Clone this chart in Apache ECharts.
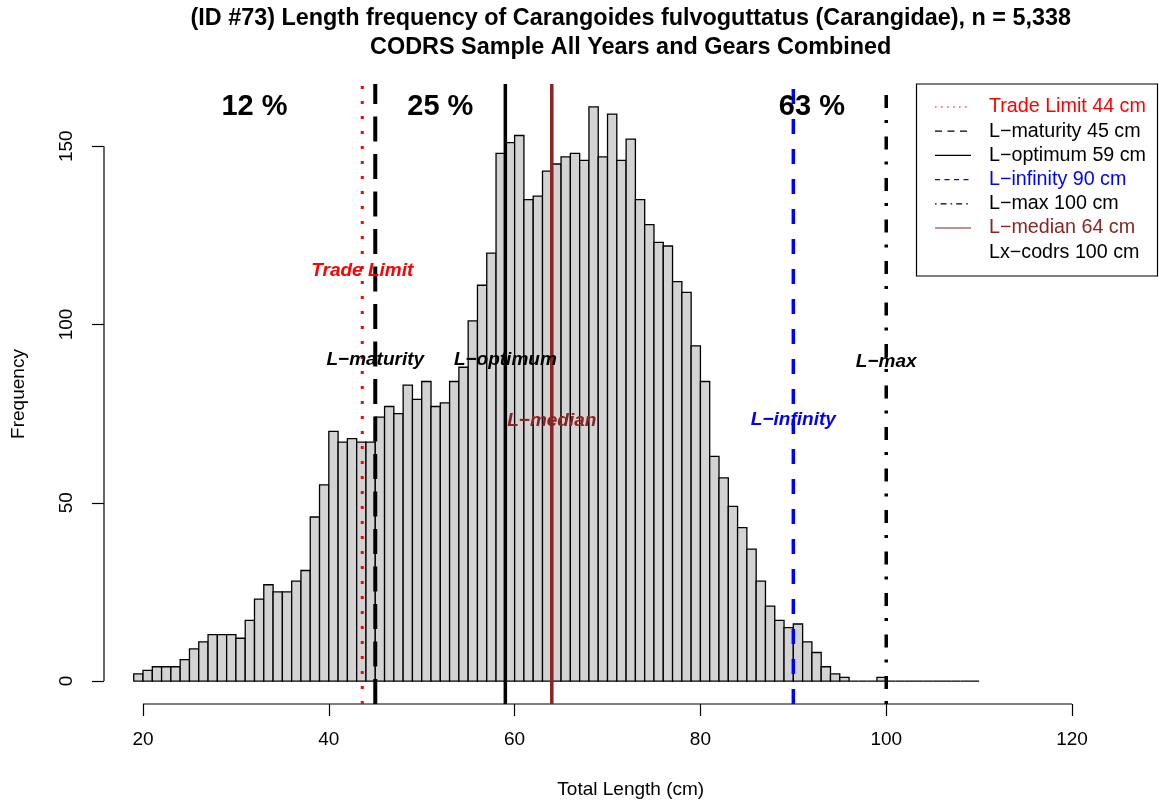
<!DOCTYPE html>
<html>
<head>
<meta charset="utf-8">
<script src="https://cdn.jsdelivr.net/npm/echarts@6/dist/echarts.min.js"></script>
<style>
  html, body { margin: 0; padding: 0; background: #ffffff; }
  #chart { width: 1161px; height: 805px; }
</style>
</head>
<body>
<div id="chart"></div>
<script>
// Length-frequency histogram: counts per 1 cm bin, first bin 19-20 cm
const binStart = 19;
const binWidth = 1;
const counts = [
  2, 3, 4, 4, 4, 6, 9, 11, 13, 13, 13,          // 19-29
  12, 17, 23, 27, 25, 25, 28, 31, 46, 55,       // 30-39
  70, 67, 68, 67, 67, 74, 77, 75, 83, 79,       // 40-49
  84, 77, 78, 84, 88, 101, 111, 120, 148, 151,  // 50-59
  153, 135, 136, 143, 145, 147, 148, 146, 161, 147, // 60-69
  159, 146, 152, 135, 128, 123, 122, 112, 109, 94,  // 70-79
  84, 63, 57, 49, 43, 37, 28, 21, 17, 15,       // 80-89
  16, 11, 8, 4, 2, 1, 0, 0, 0, 1,               // 90-99
  0, 0, 0, 0, 0, 0, 0, 0, 0, 0                  // 100-109
];

// Reference lengths (cm)
const refNames   = ['Trade Limit', 'L\u2212maturity', 'L\u2212optimum', 'L\u2212infinity', 'L\u2212max', 'L\u2212median'];
const refLengths = [43.6, 45, 59, 90, 100, 64];
const lxCodrs = 100;

// Share of the sample in each length band
const shareLabels = ['12 %', '25 %', '63 %'];
const shareX = [32, 52, 92];

// Axis ticks
const xTicks = [20, 40, 60, 80, 100, 120];
const yTicks = [0, 50, 100, 150];

// Plot extents (axis limits padded by 4 %)
const X_MIN = 15.8, X_MAX = 129.2;
const Y_MIN = -6.44, Y_MAX = 167.44;
const maxCount = Math.max(...counts);

// Line styles of the reference lines, in the order of refNames
const refStyles = [
  { color: '#ff0000', width: 3,   type: [3, 12],             legendType: [1.6, 4.4] },
  { color: '#000000', width: 4,   type: [25, 12.5],          legendType: [7, 5.5] },
  { color: '#000000', width: 3.5, type: 'solid',             legendType: 'solid' },
  { color: '#0000ff', width: 3.5, type: [15, 15],            legendType: [5, 4.5] },
  { color: '#000000', width: 3.5, type: [3, 12, 13, 13.5],   legendType: [1.6, 4, 6, 4] },
  { color: '#8b2323', width: 3.5, type: 'solid',             legendType: 'solid' }
];
// Where each line's name is written: [x, y] in data units
const refLabelAt = [
  [43.6, 115], [45, 90], [59, 90], [90, 73.3], [100, 89.5], [64, 73]
];

const chart = echarts.init(document.getElementById('chart'), null, { renderer: 'canvas' });

const FONT = 'Liberation Sans, Arial, Helvetica, sans-serif';

const series = [];

// Histogram bars
series.push({
  type: 'custom',
  name: 'bars',
  silent: true,
  data: counts.map((c, i) => [binStart + i * binWidth, binStart + (i + 1) * binWidth, c]),
  encode: { x: [0, 1], y: 2 },
  renderItem: function (params, api) {
    const p0 = api.coord([api.value(0), api.value(2)]);
    const p1 = api.coord([api.value(1), 0]);
    return {
      type: 'rect',
      shape: { x: p0[0], y: p0[1], width: p1[0] - p0[0], height: p1[1] - p0[1] },
      style: { fill: '#d3d3d3', stroke: '#000000', lineWidth: 1.3 }
    };
  },
  z: 2
});

// Axis lines spanning the tick range only
series.push({
  type: 'line', silent: true, symbol: 'none', clip: false,
  data: [[xTicks[0], Y_MIN], [xTicks[xTicks.length - 1], Y_MIN]],
  lineStyle: { color: '#000', width: 1.2 }, z: 3
});
series.push({
  type: 'line', silent: true, symbol: 'none', clip: false,
  data: [[X_MIN, yTicks[0]], [X_MIN, yTicks[yTicks.length - 1]]],
  lineStyle: { color: '#000', width: 1.2 }, z: 3
});

// Vertical reference lines
refLengths.forEach((v, i) => {
  const s = refStyles[i];
  series.push({
    type: 'line', silent: true, symbol: 'none', clip: false,
    data: [[v, Y_MIN], [v, Y_MAX]],
    lineStyle: { color: s.color, width: s.width, type: s.type, cap: 'butt' },
    z: 4
  });
});

// Names of the reference lines
series.push({
  type: 'custom', silent: true,
  data: refLengths.map((v, i) => [refLabelAt[i][0], refLabelAt[i][1], i]),
  renderItem: function (params, api) {
    const i = api.value(2);
    const p = api.coord([api.value(0), api.value(1)]);
    return {
      type: 'text', x: p[0], y: p[1],
      style: {
        text: refNames[i], fill: refStyles[i].color,
        font: 'italic bold 19px ' + FONT,
        textAlign: 'center', textVerticalAlign: 'middle'
      }
    };
  },
  z: 6
});

// Percentage of the sample between the reference lengths
series.push({
  type: 'custom', silent: true,
  data: shareX.map((x, i) => [x, maxCount, i]),
  renderItem: function (params, api) {
    const p = api.coord([api.value(0), api.value(1)]);
    return {
      type: 'text', x: p[0], y: p[1],
      style: {
        text: shareLabels[api.value(2)], fill: '#000',
        font: 'bold 29px ' + FONT,
        textAlign: 'center', textVerticalAlign: 'middle'
      }
    };
  },
  z: 6
});

// Legend (top-right corner of the plot region)
const legendEntries = refNames.map((n, i) => ({
  text: n + ' ' + Math.round(refLengths[i]) + ' cm',
  color: refStyles[i].color === '#000000' ? '#000' : refStyles[i].color,
  line: refStyles[i]
}));
legendEntries.push({ text: 'Lx\u2212codrs ' + lxCodrs + ' cm', color: '#000', line: null });

const legendBox = { x: 916.5, y: 84, w: 241, h: 192 };
const legendGraphics = [{
  type: 'rect',
  shape: { x: legendBox.x, y: legendBox.y, width: legendBox.w, height: legendBox.h },
  style: { fill: '#fff', stroke: '#000', lineWidth: 1.2 },
  z: 10
}];
legendEntries.forEach((e, k) => {
  const cy = 107 + k * 24.2;
  if (e.line) {
    legendGraphics.push({
      type: 'line',
      shape: { x1: 935, y1: cy, x2: 971, y2: cy },
      style: { stroke: e.line.color, lineWidth: 1.2, lineDash: e.line.legendType === 'solid' ? null : e.line.legendType },
      z: 11
    });
  }
  legendGraphics.push({
    type: 'text', x: 989, y: cy,
    style: { text: e.text, fill: e.color, font: '19.7px ' + FONT, textVerticalAlign: 'middle' },
    z: 11
  });
});

// Two-line title centred over the plot region
const titleGraphics = [
  { type: 'text', x: 630.75, y: 19, style: { text: '(ID #73) Length frequency of Carangoides fulvoguttatus (Carangidae), n = 5,338', font: 'bold 23.4px ' + FONT, fill: '#000', textAlign: 'center', textVerticalAlign: 'middle' } },
  { type: 'text', x: 630.75, y: 48, style: { text: 'CODRS Sample All Years and Gears Combined', font: 'bold 23.4px ' + FONT, fill: '#000', textAlign: 'center', textVerticalAlign: 'middle' } }
];

chart.setOption({
  animation: false,
  backgroundColor: '#ffffff',
  grid: { left: 104, right: 3.5, top: 84, bottom: 101, containLabel: false },
  xAxis: {
    type: 'value', min: X_MIN, max: X_MAX,
    name: 'Total Length (cm)', nameLocation: 'middle', nameGap: 76,
    nameTextStyle: { fontFamily: FONT, fontSize: 19, color: '#000' },
    axisLine: { show: false, onZero: false },
    splitLine: { show: false },
    axisTick: { show: true, customValues: xTicks, length: 12, lineStyle: { color: '#000', width: 1.2 } },
    axisLabel: { show: true, customValues: xTicks, margin: 26, fontFamily: FONT, fontSize: 19, color: '#000' }
  },
  yAxis: {
    type: 'value', min: Y_MIN, max: Y_MAX,
    name: 'Frequency', nameLocation: 'middle', nameGap: 76, nameRotate: 90,
    nameTextStyle: { fontFamily: FONT, fontSize: 19, color: '#000' },
    axisLine: { show: false, onZero: false },
    splitLine: { show: false },
    axisTick: { show: true, customValues: yTicks, length: 12, lineStyle: { color: '#000', width: 1.2 } },
    axisLabel: { show: true, customValues: yTicks, rotate: 90, margin: 28, fontFamily: FONT, fontSize: 19, color: '#000' }
  },
  series: series,
  graphic: legendGraphics.concat(titleGraphics)
});
</script>
</body>
</html>
